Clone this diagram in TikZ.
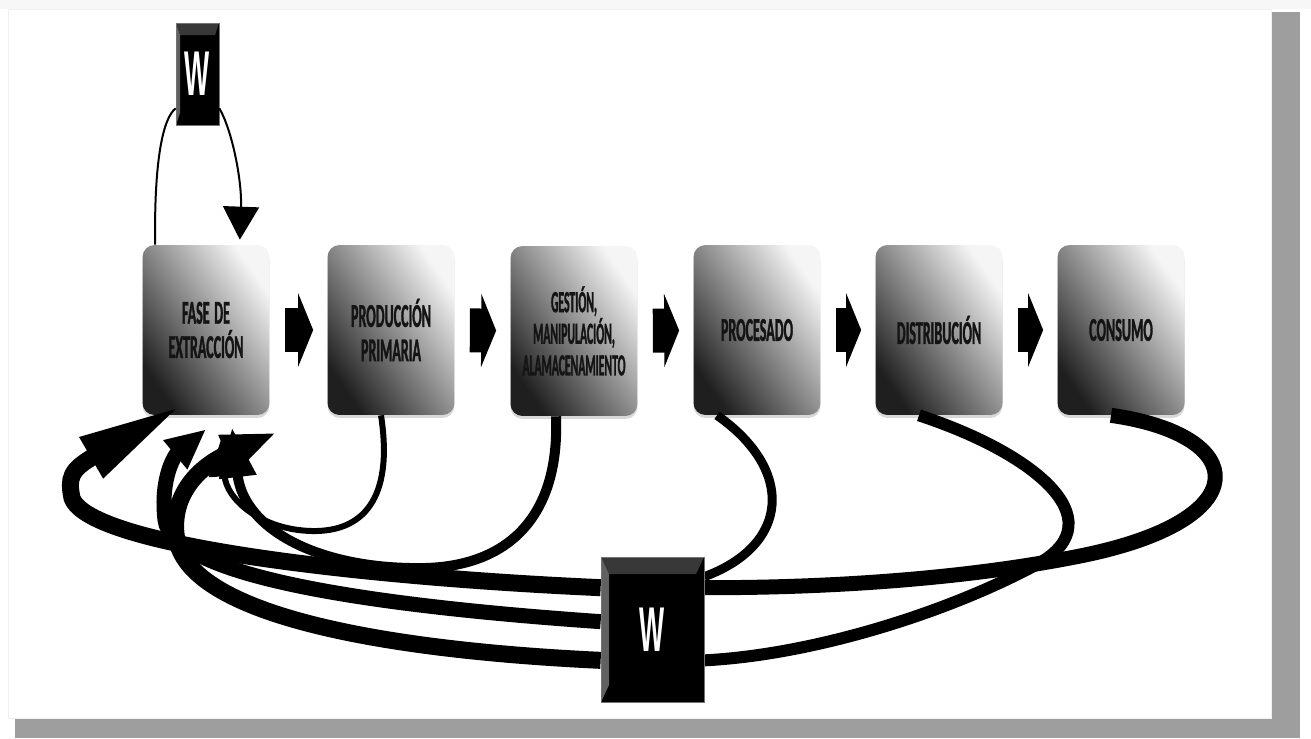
\documentclass[tikz,border=0pt]{standalone}
\usepackage{fontspec}
\usepackage{tikz}
\usetikzlibrary{arrows.meta,shadows}
\newfontfamily\boxfont{Carlito}[FakeStretch=0.42, FakeBold=1]
\newfontfamily\wfont{Liberation Sans}[FakeStretch=0.42]
\tikzset{
  fcbox/.style={rounded corners=0.24cm, minimum width=2.54cm, minimum height=3.4cm,
    inner sep=0pt, text width=2.5cm, align=center, text=black!92,
    top color=black!4, bottom color=black!88, shading angle=-55,
    font=\boxfont\bfseries\fontsize{19}{19.5}\selectfont,
    execute at begin node={\spaceskip=0.14em\relax},
    drop shadow={opacity=0.3, shadow xshift=0pt, shadow yshift=-0.06cm}},
  fcstep/.style={line width=0.88cm, -{Triangle[length=0.3cm,width=1.46cm]},
    shorten <=0.3cm, shorten >=0.28cm},
  fcthin/.style={line width=0.04cm, draw=black},
  fcwaste/.style={line width=0.24cm, draw=black},
  wsize/.style={minimum width=2.06cm, minimum height=2.9cm, inner sep=0pt},
  wbox/.style 2 args={fill=black, draw=black!55, line width=0.4pt, inner sep=0pt,
    text=white, font=\wfont\bfseries\fontsize{36}{36}\selectfont,
    path picture={
      \fill[black!78] (path picture bounding box.north west) -- (path picture bounding box.north east)
        -- ([xshift=-#1,yshift=-#2]path picture bounding box.north east)
        -- ([xshift=#1,yshift=-#2]path picture bounding box.north west) -- cycle;
      \fill[black!62] (path picture bounding box.north west)
        -- ([xshift=#1,yshift=-#2]path picture bounding box.north west)
        -- ([xshift=#1,yshift=#2]path picture bounding box.south west)
        -- (path picture bounding box.south west) -- cycle;
    }},
}
\begin{document}
\begin{tikzpicture}[x=0.02cm,y=-0.02cm]
\useasboundingbox (0,0) rectangle (1311,738);
% page and panel
\fill[white] (0,0) rectangle (1311,738);
\fill[black!3] (0,0) rectangle (1311,9);
\fill[black!38] (1271,12) rectangle (1300,738);
\fill[black!38] (15,718) rectangle (1300,738);
\filldraw[fill=white, draw=black!6] (8,9) rectangle (1271,718);

% stages
\node[fcbox] (ext) at (206,330) {FASE DE\\EXTRACCIÓN};
\node[fcbox] (prod) at (391,330) {PRODUCCIÓN\\PRIMARIA};
\node[fcbox, font=\boxfont\bfseries\addfontfeatures{FakeStretch=0.38}\fontsize{17.5}{18}\selectfont] (gest) at (574,331) {GESTIÓN,\\MANIPULACIÓN,\\ALAMACENAMIENTO};
\node[fcbox] (proc) at (757,330) {PROCESADO};
\node[fcbox] (dist) at (939,330) {DISTRIBUCIÓN};
\node[fcbox] (cons) at (1121,330) {CONSUMO};

\foreach \a/\b in {ext/prod, prod/gest, gest/proc, proc/dist, dist/cons}
  \draw[fcstep] (\a) -- (\b);

% loop over the first stage
\node[wbox={0.08cm}{0.24cm}, minimum width=0.86cm, minimum height=2.04cm] (wtop) at (197.5,74) {W};
\draw[fcthin] ([xshift=0.26cm]ext.north west) .. controls (154,160) and (163,118) .. ([yshift=0.34cm]wtop.south west);
\draw[fcthin, -{Triangle[length=0.66cm,width=0.72cm]}] ([yshift=0.34cm]wtop.south east) .. controls (232,130) and (242,180) .. ([xshift=-0.6cm,yshift=0.1cm]ext.north east);

% returns to the first stage
\path node[wsize] (wbot) at (652.5,629.5) {};
\draw[fcwaste, line width=0.12cm, -{Triangle[length=0.8cm,width=0.6cm]}] ([xshift=-0.2cm]prod.south) .. controls (394,500) and (362,532) .. (312,531) .. controls (262,530) and (226,500) .. ([xshift=0.32cm,yshift=-0.42cm]ext.south);
\draw[fcwaste, line width=0.2cm, -{Triangle[length=1cm,width=0.7cm]}] ([xshift=-0.36cm]gest.south) .. controls (560,520) and (505,566) .. (425,568) .. controls (320,570) and (244,530) .. ([xshift=0.52cm,yshift=-0.24cm]ext.south);
\draw[fcwaste, line width=0.18cm] ([xshift=-0.8cm]proc.south) .. controls (795,470) and (790,545) .. ([yshift=-0.4cm]wbot.north east);
\draw[fcwaste, line width=0.3cm, -{Triangle[length=0.8cm,width=0.7cm]}] ([yshift=-1.3cm]wbot.north west) .. controls (360,605) and (172,575) .. (165,520) .. controls (160,478) and (175,455) .. ([yshift=-0.28cm]ext.south);
\draw[fcwaste, line width=0.24cm] ([xshift=-0.4cm]dist.south) .. controls (1040,455) and (1120,525) .. (1030,568) .. controls (940,615) and (810,655) .. ([yshift=0.84cm]wbot.south east);
\draw[fcwaste, line width=0.34cm, -{Triangle[length=1.1cm,width=0.75cm]}] ([yshift=0.84cm]wbot.south west) .. controls (380,650) and (200,615) .. (178,545) .. controls (168,505) and (190,470) .. ([xshift=1.42cm,yshift=-0.34cm]ext.south);
\draw[fcwaste, line width=0.3cm] ([xshift=-0.2cm]cons.south) .. controls (1250,435) and (1260,520) .. (1080,556) .. controls (960,580) and (820,588) .. ([yshift=-0.62cm]wbot.north east);
\draw[fcwaste, line width=0.34cm, -{Triangle[length=2.1cm,width=0.85cm]}] ([yshift=-0.62cm]wbot.north west) .. controls (380,578) and (90,548) .. (72,498) .. controls (68,478) and (70,470) .. ([xshift=-0.48cm,yshift=0.2cm]ext.south);

\node[wsize, wbox={0.16cm}{0.34cm}] at (wbot) {W};
\end{tikzpicture}
\end{document}
